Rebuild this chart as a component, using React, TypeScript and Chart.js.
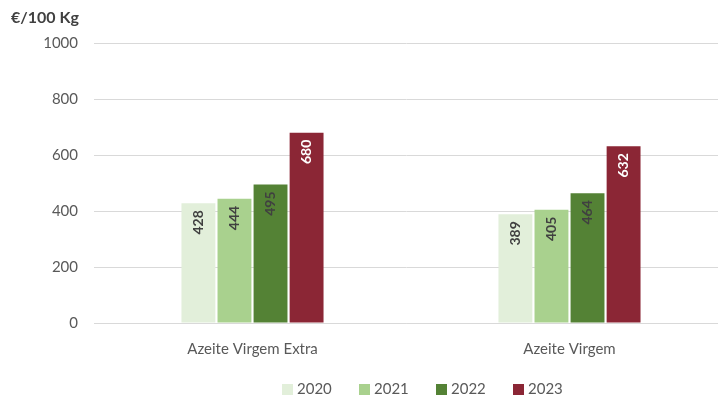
import React, { useEffect, useRef } from "react";
import { Chart, registerables } from "chart.js";

Chart.register(...registerables);

const categories = ["Azeite Virgem Extra", "Azeite Virgem"];
const seriesNames = ["2020", "2021", "2022", "2023"];
const values2020 = [428, 389];
const values2021 = [444, 405];
const values2022 = [495, 464];
const values2023 = [680, 632];
const yTicks = [0, 200, 400, 600, 800, 1000];

const colors = ["#E2EFDA", "#A9D18E", "#548235", "#8B2635"];
const labelColors = ["#404040", "#404040", "#404040", "#FFFFFF"];
const FONT = "Lato, 'Open Sans', sans-serif";

const LEGEND_LEFT = 282;
const LEGEND_STEP = 77;
const LEGEND_BOX_TOP = 384;
const PLOT_OVERHANG = 10;

const labelPlugin = {
  id: "barLabels",
  afterDatasetsDraw(chart: any) {
    const ctx = chart.ctx;
    chart.data.datasets.forEach((ds: any, i: number) => {
      const meta = chart.getDatasetMeta(i);
      meta.data.forEach((bar: any, j: number) => {
        const v = ds.data[j];
        ctx.save();
        ctx.translate(bar.x, bar.y + 7);
        ctx.rotate(-Math.PI / 2);
        ctx.textAlign = "right";
        ctx.textBaseline = "middle";
        ctx.fillStyle = labelColors[i];
        ctx.font = `bold 14px ${FONT}`;
        ctx.fillText(String(v), 0, 0);
        ctx.restore();
      });
    });
  },
};

const overhangPlugin = {
  id: "overhang",
  afterLayout(chart: any) {
    const x = chart.scales.x;
    x.right = x.right + PLOT_OVERHANG;
    x.width = x.right - x.left;
    x.configure();
    x._labelItems = null;
    chart.chartArea.right = x.right;
    chart.chartArea.width = x.width;
  },
};

const legendPlugin = {
  id: "customLegend",
  afterDraw(chart: any) {
    const ctx = chart.ctx;
    ctx.save();
    chart.data.datasets.forEach((ds: any, i: number) => {
      const x = LEGEND_LEFT + i * LEGEND_STEP;
      ctx.fillStyle = ds.backgroundColor;
      ctx.fillRect(x, LEGEND_BOX_TOP, 11, 11);
      ctx.fillStyle = "#595959";
      ctx.font = `15px ${FONT}`;
      ctx.textAlign = "left";
      ctx.textBaseline = "middle";
      ctx.fillText(ds.label, x + 15, LEGEND_BOX_TOP + 5.5);
    });
    ctx.restore();
  },
};

export default function App() {
  const ref = useRef<HTMLCanvasElement>(null);
  useEffect(() => {
    document.body.style.margin = "0";
    const data = [values2020, values2021, values2022, values2023];
    const chart = new Chart(ref.current!, {
      type: "bar",
      data: {
        labels: categories,
        datasets: seriesNames.map((name, i) => ({
          label: name,
          data: data[i],
          backgroundColor: colors[i],
          borderWidth: 0,
          barPercentage: 0.94,
          categoryPercentage: 0.455,
        })),
      },
      options: {
        animation: false,
        responsive: false,
        maintainAspectRatio: false,
        layout: { padding: { left: 11, right: 0, top: 0, bottom: 33 } },
        plugins: {
          title: {
            display: true,
            text: "€/100 Kg",
            align: "start",
            color: "#404040",
            font: { family: FONT, size: 16, weight: "bold" },
            padding: { top: 8, bottom: 16 },
          },
          legend: { display: false },
          tooltip: { enabled: false },
        },
        scales: {
          x: {
            grid: { display: false },
            border: { color: "#d9d9d9" },
            ticks: { color: "#595959", font: { family: FONT, size: 15 }, padding: 9 },
          },
          y: {
            min: 0,
            max: 1000,
            afterBuildTicks: (axis: any) => {
              axis.ticks = yTicks.map((v) => ({ value: v }));
            },
            afterFit: (axis: any) => {
              axis.width = 83;
            },
            grid: { color: "#d9d9d9", drawTicks: false },
            border: { display: false },
            ticks: {
              color: "#595959",
              font: { family: FONT, size: 15 },
              padding: 16,
              callback: (v: any) => String(v),
            },
          },
        },
      },
      plugins: [labelPlugin, overhangPlugin, legendPlugin],
    });
    return () => chart.destroy();
  }, []);
  return (
    <div style={{ width: 718, height: 400 }}>
      <canvas ref={ref} width={718} height={400} />
    </div>
  );
}
